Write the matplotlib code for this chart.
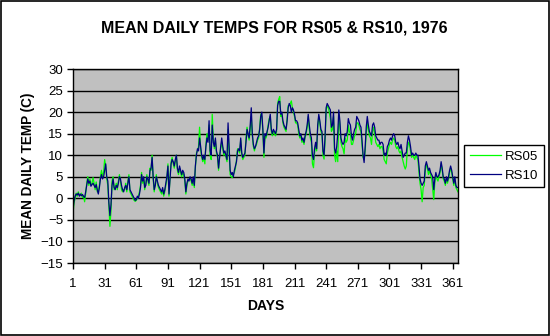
import matplotlib
matplotlib.use("Agg")
import matplotlib.pyplot as plt
from matplotlib.patches import Rectangle

plt.rcParams['font.family'] = ['Liberation Sans', 'DejaVu Sans']

# mean daily temperature (C), day 1..366 of 1976
rs05 = [
    -3.5, -1.0, 0.0, 1.2, 0.5, 1.5, 0.8, 0.6, 1.2, 0.2,
    0.6, -0.8, 1.0, 3.5, 5.0, 3.0, 4.5, 3.0, 3.5, 4.8,
    3.5, 2.0, 3.8, 1.5, 1.5, 3.0, 5.0, 6.5, 5.0, 6.0,
    9.0, 7.5, 4.5, 3.0, -2.0, -6.5, -3.0, 4.0, 5.0, 2.0,
    2.5, 3.5, 2.0, 4.0, 5.5, 4.0, 2.0, 1.5, 2.0, 2.0,
    3.5, 1.5, 4.0, 5.5, 1.5, 1.0, 0.5, 0.0, -0.5, -0.7,
    -0.5, 0.0, 0.5, 1.5, 3.0, 6.0, 3.5, 4.5, 2.0, 3.5,
    5.5, 4.0, 3.0, 7.0, 6.5, 10.0, 4.5, 1.5, 3.5, 5.5,
    3.5, 2.5, 2.0, 1.5, 1.0, 2.0, 0.5, 1.5, 3.0, 4.5,
    8.0, 0.5, 5.0, 8.5, 9.5, 8.0, 7.0, 8.5, 10.0, 6.5,
    5.5, 7.0, 6.0, 5.0, 6.0, 5.5, 4.0, 1.0, 3.0, 4.0,
    4.5, 4.5, 4.0, 3.0, 4.5, 2.5, 7.0, 10.5, 11.0, 12.0,
    16.5, 11.5, 9.5, 8.5, 9.5, 8.0, 12.5, 15.0, 13.5, 17.0,
    10.0, 9.0, 19.5, 14.0, 11.5, 13.5, 10.5, 9.5, 6.5, 10.0,
    11.5, 13.0, 11.5, 10.0, 10.5, 9.5, 8.5, 16.0, 11.0, 5.5,
    5.0, 4.8, 5.5, 6.0, 7.0, 9.0, 11.5, 11.0, 10.5, 13.5,
    10.0, 9.0, 9.5, 10.0, 14.0, 16.5, 14.5, 13.5, 16.0, 19.0,
    14.5, 12.0, 11.0, 12.0, 12.5, 13.5, 14.0, 16.5, 19.5, 19.0,
    15.5, 9.5, 14.5, 14.0, 15.0, 17.0, 18.5, 19.0, 15.5, 14.5,
    15.5, 15.0, 14.5, 15.5, 22.0, 23.0, 23.6, 19.0, 19.5, 17.5,
    16.5, 16.0, 15.5, 18.5, 21.5, 21.5, 22.0, 22.6, 21.0, 20.0,
    19.0, 17.5, 17.5, 17.0, 15.0, 14.0, 14.5, 13.0, 13.5, 12.5,
    14.0, 15.0, 16.5, 19.0, 16.0, 14.0, 13.0, 8.0, 7.1, 10.5,
    12.5, 11.0, 16.5, 19.0, 17.5, 15.5, 15.0, 10.0, 9.1, 13.5,
    20.5, 21.5, 21.0, 20.0, 18.5, 15.5, 16.0, 19.0, 10.0, 8.5,
    11.0, 8.5, 19.5, 17.0, 13.0, 12.0, 11.5, 10.3, 14.0, 13.0,
    13.5, 17.0, 15.5, 15.0, 12.5, 12.5, 13.5, 14.5, 15.0, 17.5,
    17.5, 17.0, 16.0, 15.5, 12.5, 9.5, 9.0, 11.0, 15.0, 17.5,
    16.0, 14.5, 14.0, 12.5, 15.5, 16.5, 15.0, 13.0, 12.5, 12.0,
    12.5, 11.5, 12.0, 12.0, 11.0, 9.0, 8.5, 8.0, 10.5, 11.5,
    12.5, 13.0, 12.5, 13.5, 14.0, 13.5, 12.0, 11.5, 12.0, 11.0,
    10.5, 11.0, 9.5, 8.5, 7.5, 6.8, 7.5, 11.5, 13.0, 12.5,
    11.0, 9.5, 10.0, 9.5, 9.0, 10.0, 9.5, 9.0, 6.0, 3.5,
    2.0, -0.8, 2.5, 3.0, 6.5, 8.0, 7.0, 5.5, 6.5, 5.5,
    4.5, 2.0, -0.3, 3.5, 5.5, 4.5, 4.0, 5.0, 6.0, 8.0,
    6.5, 4.5, 4.0, 3.0, 4.5, 3.5, 4.5, 6.0, 7.0, 6.0,
    4.5, 3.0, 4.5, 2.5, 2.0, 1.5,
]

rs10 = [
    -2.5, -0.5, 0.5, 1.0, 0.8, 1.2, 0.5, 1.0, 0.6, 0.9,
    0.4, 0.2, 1.5, 3.0, 4.5, 3.5, 4.0, 2.8, 3.2, 3.5,
    3.0, 2.5, 3.2, 2.0, 1.0, 2.5, 4.5, 5.5, 4.5, 5.0,
    6.5, 8.0, 5.0, 4.0, -1.0, -4.0, -1.5, 3.0, 4.5, 2.5,
    2.0, 3.0, 2.5, 3.5, 5.0, 4.5, 3.0, 2.0, 1.5, 2.5,
    3.0, 2.0, 3.5, 5.0, 2.0, 1.5, 1.0, 0.5, 0.0, -0.5,
    -0.3, 0.5, 0.0, 1.0, 2.5, 5.5, 4.0, 5.0, 2.5, 3.0,
    5.0, 4.5, 3.5, 6.5, 7.0, 9.5, 5.0, 2.0, 3.0, 5.0,
    4.0, 3.0, 2.5, 2.0, 1.5, 2.5, 1.0, 2.0, 3.5, 5.0,
    7.5, 1.0, 4.5, 8.0, 9.0, 8.5, 7.5, 9.0, 10.0, 7.0,
    6.0, 7.5, 6.5, 5.5, 6.5, 6.0, 4.5, 1.5, 3.5, 4.5,
    4.0, 5.0, 4.5, 3.5, 5.0, 3.0, 7.5, 10.0, 11.5, 11.0,
    14.0, 12.0, 10.0, 9.0, 10.0, 9.0, 12.0, 14.0, 13.0, 18.0,
    11.0, 10.0, 17.0, 13.0, 12.0, 14.0, 11.0, 10.0, 7.0, 9.5,
    12.0, 14.0, 12.0, 10.5, 11.0, 10.0, 9.0, 17.5, 12.0, 6.5,
    5.5, 6.0, 5.0, 6.5, 7.5, 8.5, 11.0, 11.5, 11.0, 14.0,
    10.5, 9.5, 10.0, 10.5, 13.0, 16.0, 15.0, 14.0, 17.0, 21.0,
    15.0, 12.5, 11.5, 12.0, 13.0, 14.0, 14.5, 16.0, 19.0, 20.0,
    16.0, 10.5, 15.0, 14.5, 15.5, 16.5, 18.0, 19.5, 16.0, 15.0,
    16.0, 15.5, 15.0, 16.0, 21.5, 22.5, 22.5, 19.5, 20.0, 18.0,
    17.0, 16.5, 16.0, 18.0, 21.0, 22.0, 21.5, 20.0, 21.0, 20.5,
    19.5, 18.0, 18.0, 17.5, 16.0, 14.5, 15.0, 13.5, 14.0, 13.0,
    14.5, 15.5, 17.0, 19.5, 17.0, 15.0, 14.0, 10.0, 9.0, 11.5,
    13.0, 11.5, 17.0, 19.5, 18.0, 16.0, 15.5, 11.0, 10.0, 14.5,
    21.0, 22.0, 21.5, 21.0, 20.5, 16.5, 17.0, 20.0, 11.5, 10.5,
    12.0, 15.0, 20.5, 18.0, 14.0, 13.0, 12.5, 13.0, 15.0, 14.5,
    15.5, 18.5, 17.5, 17.0, 14.5, 13.5, 15.0, 16.0, 16.5, 19.0,
    18.5, 18.0, 17.0, 16.5, 13.5, 10.0, 8.3, 12.0, 16.5, 19.0,
    17.0, 15.5, 15.0, 14.5, 17.0, 17.5, 16.5, 14.5, 14.0, 13.5,
    13.5, 12.5, 13.0, 13.0, 12.5, 10.0, 10.5, 10.0, 12.0, 12.5,
    13.5, 14.0, 13.5, 14.5, 15.0, 14.5, 13.0, 12.5, 13.0, 12.0,
    11.5, 12.5, 11.0, 9.5, 10.0, 10.5, 10.5, 13.0, 14.5, 13.5,
    12.0, 10.0, 10.5, 10.0, 10.0, 10.5, 10.0, 10.0, 7.5, 4.5,
    3.5, 3.0, 3.5, 4.0, 7.5, 8.5, 7.5, 6.5, 7.0, 6.0,
    5.5, 5.0, 2.0, 4.5, 6.0, 5.0, 5.0, 5.5, 6.5, 8.5,
    7.0, 5.0, 4.5, 3.5, 5.0, 4.0, 5.0, 6.5, 7.5, 6.5,
    5.0, 3.5, 5.0, 3.0, 2.5, 2.5,
]

days = list(range(1, len(rs10) + 1))
day_ticks = list(range(1, 362, 30))
temp_ticks = list(range(-15, 31, 5))

fig = plt.figure(figsize=(5.5, 3.36), dpi=100)
fig.patch.set_facecolor('white')
ax = fig.add_axes([73/550, 1 - 263/336, 385/550, 194/336])
ax.set_facecolor('#C0C0C0')

ax.plot(days, rs05, color='#00FF00', lw=0.9, label='RS05')
ax.plot(days, rs10, color='#000080', lw=0.9, label='RS10')

ax.set_xlim(1, 366)
ax.set_ylim(-15, 30)
ax.set_xticks(day_ticks)
ax.set_yticks(temp_ticks)
ax.yaxis.grid(True, color='black', lw=1.0)
ax.set_axisbelow(True)
for s in ax.spines.values():
    s.set_color('black')
    s.set_linewidth(1.0)
ax.tick_params(direction='out', length=4, width=1, labelsize=9.5, colors='black', pad=3)
ax.tick_params(axis='x', pad=7)

fig.text(274/550, 1 - 28/336, 'MEAN DAILY TEMPS FOR RS05 & RS10, 1976',
         ha='center', va='center', fontsize=11.5, fontweight='bold')
ax.set_xlabel('DAYS', fontsize=10, fontweight='bold', labelpad=6)
ax.set_ylabel('MEAN DAILY TEMP (C)', fontsize=9.8, fontweight='bold')
# right edge of the rotated label sits about 38 px left of the axis
ax.yaxis.set_label_coords(-38/385, 0.5)

leg = fig.legend(loc='center', bbox_to_anchor=(504/550, 1 - 166/336), fontsize=9.5,
                 frameon=True, fancybox=False, edgecolor='black', framealpha=1,
                 handlelength=2.4, borderpad=0.45, labelspacing=0.5, handletextpad=0.3)
leg.get_frame().set_linewidth(1.0)

fig.patches.append(Rectangle((0.001, 0.002), 0.997, 0.996, transform=fig.transFigure,
                             fill=False, edgecolor='black', lw=1.2))

fig.savefig('out.png', dpi=100)
